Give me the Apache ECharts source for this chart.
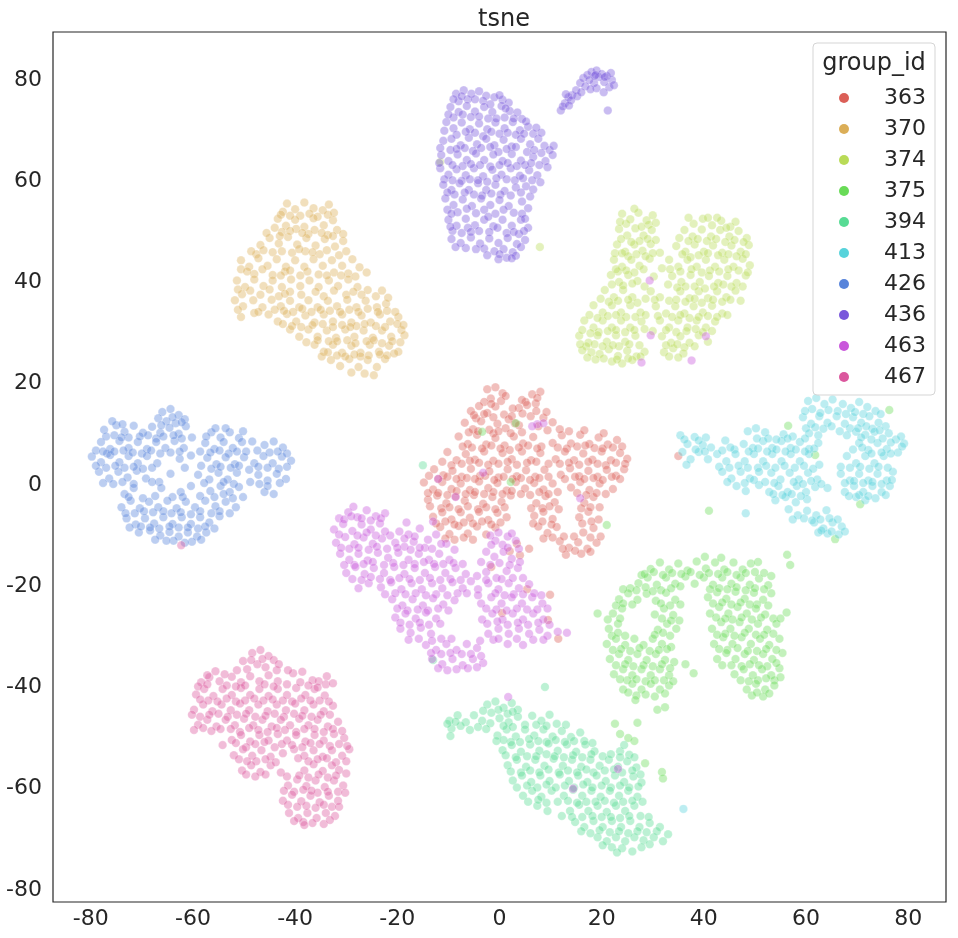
<!DOCTYPE html>
<html><head><meta charset="utf-8">
<script src="https://cdn.jsdelivr.net/npm/echarts@6/dist/echarts.min.js"></script>
<style>html,body{margin:0;padding:0;background:#fff}#c{width:958px;height:938px}</style>
</head><body><div id="c"></div>
<script>
const groupIds = ['363','370','374','375','394','413','426','436','463','467'];
const groupColors = ['#db5f57','#dbae57','#b9db57','#69db57','#57db94','#57d3db','#5784db','#7957db','#c957db','#db579e'];
const tickValues = [-80,-60,-40,-20,0,20,40,60,80];

const g363 = [[-2.4,18.9],[-0.8,19.3],[0.6,18.1],[-1.7,17.1],[0.3,16.6],[-3,16.4],[6.4,17.9],[8,18.4],[5.1,16.4],[7.1,16.1],[3.8,15.2],
[-5.6,14.6],[-4,15.6],[-2.4,14.2],[-0.8,15.5],[0.9,13.9],[2.6,15.1],[4.5,14.1],[6.1,13.6],[8.6,13.3],[7.6,11.6],[-4.6,13.2],[1.8,13],
[-6.8,12.3],[-5.2,11],[-3.6,12.6],[-2,10.9],[-0.4,12.1],[1.2,11.2],[3,12.2],[10.4,12.4],[4.4,10.4],[-1.2,10.2],
[-8,9.6],[-6.2,8.1],[-4.4,9.9],[-2.6,8],[-0.8,9.3],[1,7.8],[2.8,9.6],[4.6,8.2],[6.6,9.5],[10.4,8.3],[12.2,9.8],[14,8.2],[15.8,9.9],[17.6,8.1],[19.4,9.4],[21.2,8],[23,8.9],[-5.4,7.4],[0.2,7.2],[8.2,7.6],[13.2,7.2],[18.6,7.3],
[-10.2,6.5],[-8.4,4.9],[-6.6,6.1],[-4.8,5],[-3,6.6],[-1.2,4.8],[0.6,6.3],[2.4,5.1],[4.4,6.6],[6.2,4.9],[8,6.3],[11,5.1],[12.8,6.6],[14.6,4.9],[16.4,6.2],[18.2,5],[20,6.6],[21.8,4.9],[23.6,6.3],[25,5.2],[-9.4,3.9],[-2.2,4],[9.6,4.2],[20.8,3.9],
[-12.8,3.1],[-11,1.9],[-9.2,2.8],[-7.4,1.6],[-5.6,3.2],[-3.8,1.8],[-2,2.7],[-0.2,1.5],[1.6,3.1],[3.4,1.7],[5.2,2.9],[7,1.6],[8.8,3],[12,2],[13.8,3.3],[15.6,1.7],[17.4,2.8],[19.2,1.6],[21,3],[22.8,1.8],[24.4,3.1],
[-14.8,0.5],[-13,-0.9],[-11.2,0.6],[-9.4,-0.8],[-7.6,0.3],[-5.8,-1],[-4,0.7],[-2.2,-0.6],[-0.4,0.4],[1.4,-1.1],[3.2,0.6],[5,-0.7],[6.8,0.4],[8.6,-0.9],[10.4,0.3],[14,-0.5],[15.8,0.6],[17.6,-1],[19.6,0.3],[22.2,-0.8],
[-14,-2.9],[-12.2,-2.1],[-10.4,-3.6],[-8.6,-2.3],[-6.8,-3.1],[-5,-2],[-3.2,-3.7],[-1.4,-2.4],[0.4,-3.3],[2.2,-2.1],[7.2,-3.6],[9,-2.2],[10.8,-3.4],[16.6,-3.5],[18.4,-2.4],[-11.4,-4.6],[-4.2,-4.8],[8.4,-4.6],
[-13,-6.3],[-11.2,-5.4],[-9.4,-6.8],[-7.6,-5.4],[-5.8,-6.5],[-4,-5.3],[-2.2,-6.9],[-0.4,-5.5],[1.4,-6.4],[6.8,-6.1],[8.6,-5.3],[10.4,-6.7],[15.6,-6.4],[17.4,-5.3],[19.4,-6.8],
[-11.6,-8.3],[-9.8,-9.7],[-8,-8.1],[-6.2,-9.6],[-4.4,-8.2],[-2.6,-9.8],[-0.8,-8.4],[7.6,-8.2],[9.4,-9.5],[11.2,-8.3],[16.4,-9.4],[18.4,-8.5],
[11.8,-11.1],[13.6,-12.4],[15.4,-11.3],[17.2,-12.6],[19,-11.4],[13,-13.8],[16,-13.6],[2,-13.1],[4,-13.9],[5.8,-12.6],[3.4,-11.6],[14.6,-10.2],
[-1.6,16],[1.2,17.6],[7.4,17.2],[4.4,16.8],[-5,13.8],[-3,14],[-1.2,13.4],[2.4,13.6],[5.4,15.8],[7.2,14.6],[9.2,14.4],
[-6,10.4],[-4.2,10.6],[-0.2,10.6],[2.2,10.2],[3.8,11.8],[11.8,11],[9.4,10.8],[13.6,10.6],[16.6,10.8],[20.4,10.2],
[-7.2,7.6],[-3.4,7.2],[-1.6,7.8],[2,6.9],[3.8,7.4],[5.6,7.8],[7.4,7.2],[11.4,7.4],[15.2,7.6],[16.8,7.8],[20.2,7.2],[22.2,7.4],[24,7.6],
[-11.2,4.6],[-7.4,4.2],[-5.8,4.8],[-4,4.4],[-0.2,4.2],[1.6,4.6],[3.4,4],[5.4,4.4],[7.2,4.6],[11.8,4.2],[13.6,4.4],[15.6,4],[17.4,4.6],[19.2,4.2],[22.8,4.4],[24.6,4.2],
[-13.8,1.8],[-12,1.2],[-10.2,1.6],[-8.4,1.2],[-6.4,1.4],[-4.8,1.2],[-2.8,1.8],[-1,1],[0.8,1.6],[2.6,1.2],[4.2,1.4],[6,1],[7.8,1.4],[9.6,1.6],[12.8,1.2],[14.8,1.6],[16.6,1.2],[18.4,1.4],[20.2,1],[22,1.6],[23.6,1.2],
[-14,-1.6],[-12,-1.6],[-10.2,-2],[-8.4,-1.2],[-6.6,-1.8],[-4.8,-1.4],[-3,-1.8],[-1.2,-1.4],[0.6,-1.8],[2.4,-1.2],[4.2,-1.8],[6,-2],[7.8,-1.4],[9.6,-1.8],[11.4,-1.4],[15.2,-1.6],[17,-2],[19,-1.6],[20.8,-1.8],
[-13.6,-4.2],[-9.8,-4.4],[-8,-4.8],[-6.2,-4.2],[-2.6,-4.4],[-0.8,-4.8],[1,-4.4],[6.2,-4.6],[9.8,-4.2],[11.6,-4.8],[16,-4.6],[17.8,-4.4],[19.6,-4.4],
[-12.4,-7.6],[-10.6,-7.2],[-8.8,-7.8],[-7,-7.4],[-5.2,-7.6],[-3.4,-7.2],[-1.6,-7.8],[0.2,-7.4],[6.6,-7.6],[8.4,-7.2],[10.2,-7.8],[16.2,-7.6],[18,-7.2],
[-10.6,-10.6],[-8.8,-10.8],[-7,-10.4],[-5.2,-10.8],[8.6,-10.6],[10.4,-10.4],[12.6,-10.2],[17.8,-10.4],[19.8,-10.2],[12.4,-12.6],[14.8,-13],[17.8,-13.2],
[35,5.7],[9.9,-21.7],[9.5,-26.7],[11.5,-30.4],[0.5,-25.3],[-1.6,-16.2],[5.4,-20.6]];

const g370 = [[-41.6,55.6],[-40,54.5],[-38.2,55.8],[-36.4,54.7],[-34.6,54.3],[-33.4,55.4],[-39,53.2],[-35.6,53],[-42.4,54],
[-43.4,52.6],[-41.8,51.2],[-40,52.4],[-38.2,51],[-36.4,52.7],[-34.4,51.3],[-32.6,52.3],[-31.8,50.4],[-42.6,50],[-37.4,49.6],[-33.6,49.4],[-39.8,50.6],[-44,50.8],
[-45,48.8],[-46.8,47.4],[-43.2,47.7],[-41.4,49],[-39.6,47.5],[-37.8,48.8],[-36,47.3],[-34.2,48.6],[-32.2,47.1],[-30.6,48.2],[-44.4,46],[-40.6,45.9],[-35.2,45.6],[-31.4,45.4],[-38,46.2],[-47.6,45.6],
[-50.6,44.4],[-49,43.1],[-47.2,44.8],[-45.4,43.3],[-43.6,44.6],[-41.8,43.1],[-40,44.4],[-38.2,43.1],[-36.4,44.6],[-34.6,43.3],[-32.8,44.4],[-30.8,43.3],[-27.4,43],[-29.6,41.8],[-48,41.7],[-44.4,41.5],[-39,41.4],[-35.4,41.6],[-32.4,42],[-42,42.2],
[-51.4,40.4],[-49.8,39.1],[-48,40.6],[-46.2,39.3],[-44.4,40.4],[-42.6,39.1],[-40.8,40.6],[-39,39.3],[-37.2,40.4],[-35.4,39.1],[-33.4,40.4],[-31.6,39.3],[-29.6,40.6],[-27.8,39.1],[-25.8,38.5],[-50.4,37.7],[-46.8,37.6],[-43.2,37.3],[-38.8,37.6],[-34.4,37.3],[-30,37.6],[-24.2,37.3],[-41,38.2],[-27,37.6],
[-51.8,36.5],[-50.2,35.3],[-48.2,36.5],[-46.4,35.1],[-44.6,36.6],[-42.8,35.3],[-41,36.4],[-39.2,35.1],[-37.4,36.5],[-35.6,35.1],[-33.6,36.4],[-31.8,35.3],[-29.8,36.6],[-28,35.1],[-26.2,36.4],[-24,35.1],[-22.2,35.8],[-50.6,33.2],[-48,34],
[-45.2,33.7],[-43.4,32.3],[-41.6,33.8],[-39.8,32.3],[-38,33.5],[-36.2,32.1],[-34.4,33.7],[-32.6,32.3],[-30.8,33.7],[-29,32.1],[-27,33.5],[-25.2,32.1],[-23.4,33.7],[-21.4,32.3],[-19.8,33.2],
[-41,30.7],[-39.2,29.3],[-37.4,30.7],[-35.6,29.3],[-33.8,30.5],[-32,29.1],[-30.2,30.7],[-28.4,29.3],[-26.6,30.5],[-24.8,29.1],[-23,30.5],[-21.2,29.3],[-19.2,30.6],[-20,31.8],[-36.6,31.6],[-28,31.4],[-32.6,31.2],[-24.2,31.4],
[-36.2,27.7],[-34.4,26.3],[-32.6,27.7],[-30.8,26.1],[-29,27.5],[-27.2,26.1],[-25.4,27.7],[-23.6,26.3],[-21.6,27.5],[-19.8,26.3],[-33.4,28.4],[-26,28.4],[-21,28.4],[-29.8,28.6],
[-33,24.7],[-31.2,23.5],[-29.4,24.9],[-27.6,23.3],[-25.8,24.7],[-24,23.3],[-22.4,24.9],[-29,22.2],[-26.4,22],[-24.6,21.7],[-31.8,25.6],[-27.2,25.4],[-23.4,25.8],
[-42.8,53.4],[-41,53.2],[-37.2,53.6],[-33.6,53.4],[-32.4,53.8],
[-43,49.2],[-41,50.2],[-38.6,49.8],[-36.2,50.4],[-34.8,49.8],[-32.6,49.2],[-30.6,49.6],[-45.6,49.8],
[-48.6,46.2],[-46.2,46.4],[-42.6,46.2],[-39.2,46.6],[-36.6,46],[-33.8,46.4],[-30,46.2],[-28.8,44.6],
[-50.6,42.6],[-49.4,42.2],[-46.4,42.6],[-42.8,41.4],[-41,42.4],[-37.6,42.2],[-33.8,41.4],[-31,41.4],[-28.2,41.2],[-26,42],
[-51.2,38.6],[-48.8,38.4],[-45,38.6],[-42,37.8],[-36,38.2],[-32.4,38.4],[-28.6,38.2],[-23,38.4],[-21.8,37],
[-51.2,34.6],[-47.2,34.2],[-44,34.6],[-42.2,34.4],[-40.4,34.2],[-38.6,34.8],[-36.8,34.2],[-35,34.6],[-33.2,34.4],[-31.2,34.2],[-29.4,34.6],[-27.6,34.2],[-25.8,34.8],[-23.8,34.2],[-22,34.4],[-20.4,34.2],
[-42.4,31.8],[-40.6,31.4],[-38.8,31.2],[-34.6,31.8],[-30.8,31.6],[-29.2,31.2],[-26.4,31.8],[-22.4,31.2],[-18.8,31.6],
[-37.8,28.2],[-35.6,28.6],[-31.8,28.4],[-28.2,28],[-24.6,28.6],[-23,28],[-19.4,28.2],[-18.6,29.6],
[-34.8,25.4],[-33.6,26.2],[-30.2,25.4],[-28.4,25.8],[-25.6,25.6],[-22,25.6],[-20.6,26]];

const g374 = [[24,53.6],[25.6,52.5],[27.2,53.8],[28.8,52.3],[30,53.3],[26.4,54.6],[38,51.6],[39.8,52.6],[41.6,51.3],[43.4,52.2],[45.2,51],[24.8,51.6],[29.2,51.4],
[23.4,50.6],[25,49.3],[26.6,50.7],[28.2,49.3],[29.8,50.4],[36.2,50.4],[37.8,49.1],[39.6,50.5],[41.4,49.1],[43.2,50.4],[45,49.1],[46.8,50.2],[48.4,48.8],[27.4,48.2],[40.6,48.2],[44.2,48],
[23,47.5],[24.6,46.1],[26.4,47.5],[28,46.3],[29.6,47.6],[31.4,45.9],[34.6,47.2],[36.4,46.1],[38.2,47.5],[40,46.1],[41.8,47.3],[43.6,45.9],[45.4,47.3],[47.2,46.1],[48.8,47.4],[25.2,45.2],[37.4,45],[46.4,45.2],
[22.4,44.5],[24,43.1],[25.8,44.5],[27.4,43.3],[29.4,44.7],[33.2,44.5],[35,43.1],[36.8,44.5],[38.6,43.1],[40.4,44.5],[42.2,43.1],[44,44.5],[45.8,43.1],[47.6,44.7],[49,43.4],[23.2,42.2],[39.6,42],[31.8,42.8],
[21.8,41.5],[23.4,40.1],[25.2,41.5],[27,40.3],[33.8,41.3],[35.6,40.1],[37.4,41.5],[39.2,40.1],[41,41.3],[42.8,39.9],[44.6,41.3],[46.4,39.9],[48.2,41.4],[30.2,41.2],[28.4,39.2],[36.4,39.2],[45.4,39.2],
[20.6,38.5],[22.4,37.1],[24.2,38.5],[26,37.1],[29.6,38.3],[31.4,37.1],[35.4,38.3],[37.2,36.9],[39,38.3],[40.8,36.9],[42.6,38.3],[44.4,37.1],[46.2,38.4],[47.2,36.4],[21.4,36.2],[33.2,36.4],[39.6,36],
[18.4,35.5],[20.2,34.1],[22,35.5],[23.8,34.1],[25.6,35.5],[27.6,34.1],[30.6,35.3],[32.6,33.9],[34.4,35.3],[36.2,33.9],[38,35.3],[39.8,34.1],[41.6,35.4],[43.6,33.9],[24.8,33.2],[37.2,33],
[16.6,32.5],[18.4,31.1],[20.2,32.5],[22,31.1],[23.8,32.5],[25.6,31.1],[27.8,32.3],[31.4,32.5],[33.2,31.1],[35,32.5],[36.8,31.1],[38.6,32.5],[40.4,31.1],[42.2,32.3],[19.4,30.2],[30,30.4],[34.6,30.2],
[15.6,29.5],[17.4,28.1],[19.2,29.6],[21,28.3],[22.8,29.6],[24.6,28.3],[26.6,29.5],[31.8,29.4],[33.6,28.1],[35.4,29.4],[37.2,28.1],[39,29.6],[40.8,28.3],[17,27.4],[23.4,27.4],[36.2,27.2],
[16.2,26.6],[18,26.2],[19.6,25.9],[21.4,26.8],[23.2,25.5],[25,26.5],[26.8,25.4],[28.4,26.3],[32.2,26.2],[34,27],[36,26],[22,24.4],[24,24],[26,24.7],[20.4,25],
[23.6,52],[27.8,51],[30.6,51.8],[37,52.8],[40.8,52.8],[42.6,52.8],[46.2,52],[44.4,50.8],
[23.8,48.6],[25.8,48],[29,48.6],[30.6,48.4],[35.2,48.8],[37,48.2],[38.8,48.6],[42.4,48.6],[46,48.4],[47.8,48],
[22.6,45.8],[24,45.8],[26.8,45.6],[28.6,45.2],[30,45.8],[35.8,45.6],[39,45.4],[40.8,45.8],[42.8,45.4],[44.8,45.6],[48.2,45.6],
[22.8,42.6],[24.8,42.4],[26.4,42],[28.2,42.6],[33.4,42.6],[35.4,42.2],[37.6,42.6],[41.2,42.4],[43,42.2],[44.8,42.6],[46.8,42.4],[48.6,42],
[22,39.6],[24.2,39.4],[26,39.8],[33,39.6],[34.8,39],[38.2,39.2],[40.2,38.8],[42,39.2],[43.8,39.6],[47.6,39.2],
[19.8,36.8],[23.2,36.4],[25.2,36.6],[27,36],[28.6,36.8],[30.4,36.6],[34.6,36.6],[36.4,36.2],[38.2,36.8],[41.8,36.6],[43.6,36.2],[45.2,36.6],
[17.6,33.6],[19.2,33],[21.2,33.4],[22.8,33.6],[26.6,33.2],[28.6,33.6],[31,33.4],[33.8,33.2],[35.4,33.6],[39,33.2],[40.8,33.4],[42.6,33.2],[44.6,33.6],
[16.2,30.6],[17.8,30],[21.2,30.4],[22.8,30.6],[24.6,30.2],[26.4,30.6],[28.4,30.8],[32.6,30.6],[36.6,30.4],[38.4,30.8],[39.8,30.2],[41.6,30.4],
[15.8,27.8],[18.6,27.8],[20.2,27.4],[22.2,27.6],[25.4,27.8],[27.4,27.6],[32.6,27.6],[34.8,27.8],[38.2,27.4],
[17.2,25.2],[18.8,24.8],[23,24.8],[25.2,25],[27.6,25.4],[33.2,25.4],[35,25.2],
[7.9,47],[-11.6,63.8]];

const g375 = [[29.6,-16.6],[31.4,-15.3],[33.2,-16.7],[35,-15.5],[36.8,-16.9],[38.6,-15.1],[40.4,-16.5],[42.2,-15.3],[44,-16.7],[45.8,-15.3],[47.6,-16.7],[49.2,-15.5],[40.2,-14.2],[43.4,-14.4],[50.6,-15.2],[27.8,-17.8],
[27.2,-19.4],[29,-18.3],[30.8,-19.7],[32.6,-18.3],[34.4,-19.5],[36.4,-18.1],[38.2,-19.5],[40,-18.3],[41.8,-19.7],[43.6,-18.3],[45.4,-19.5],[47.2,-18.3],[49,-19.7],[50.8,-18.5],[52.6,-19.8],[25.6,-20.4],[31.6,-20.8],[44.6,-20.6],[48.2,-20.8],
[23.4,-22.6],[25.2,-21.4],[27,-22.7],[28.8,-21.5],[30.6,-22.9],[32.6,-21.3],[34.4,-22.7],[40.8,-22.2],[42.6,-21.2],[44.4,-22.5],[46.2,-21.1],[48,-22.5],[49.8,-21.3],[51.6,-22.7],[53.2,-21.4],[33.4,-23.8],[22.8,-23.8],[50.4,-23.6],
[22.2,-25.4],[24,-24.4],[30.4,-25.6],[32.2,-24.4],[34,-25.7],[41.2,-25.4],[43,-24.1],[44.8,-25.4],[46.6,-24.1],[48.4,-25.4],[50.2,-24.4],[52,-25.6],[19.2,-25.4],[56.2,-25.2],[35.2,-26.8],[45.6,-26.6],[53.6,-26.4],
[21.4,-28.4],[23.2,-27.4],[31,-28.6],[32.8,-27.4],[34.6,-28.4],[41.6,-28.4],[43.4,-27.1],[45.2,-28.4],[47,-27.1],[48.8,-28.4],[50.6,-27.4],[52.4,-28.6],[54.2,-27.4],[22,-29.8],[33.4,-29.8],[46,-29.8],[50.2,-29.6],
[21,-31.4],[22.8,-30.4],[24.6,-31.6],[26.4,-30.4],[28.2,-31.6],[30,-30.4],[31.8,-31.4],[33.6,-32],[42,-31.4],[43.8,-30.1],[45.6,-31.4],[47.4,-30.1],[49.2,-31.4],[51,-30.4],[52.8,-31.6],[54.8,-30.4],[25.6,-32.8],[29.4,-32.8],[44.6,-32.6],[50.4,-32.8],
[21.6,-34.4],[23.4,-33.4],[25.2,-34.6],[27,-33.4],[28.8,-34.6],[30.6,-33.4],[32.4,-34.6],[34.2,-35],[36.4,-35.4],[42.6,-34.4],[44.4,-33.2],[46.2,-34.4],[48,-33.4],[49.8,-34.6],[51.6,-33.4],[53.4,-34.4],[55.4,-33.2],[26.2,-35.8],[30,-35.8],[47.4,-35.8],[52.4,-35.8],
[22.4,-37.4],[24.2,-36.4],[26,-37.6],[27.8,-36.4],[29.6,-37.6],[31.4,-36.4],[33.2,-37.6],[38,-37.2],[46,-37.4],[47.8,-36.4],[49.6,-37.6],[51.4,-36.4],[53.2,-37.6],[54.8,-36.2],[25,-38.6],[28.6,-38.8],[32.2,-38.6],[50.6,-38.6],[53.8,-38.6],
[24.2,-40.4],[26,-39.3],[27.8,-40.4],[29.6,-39.3],[31.4,-40.4],[33.2,-39.6],[48.4,-40.4],[50.2,-39.3],[52,-40.4],[53.8,-39.6],[49.4,-41.6],[51.6,-41.8],[26.8,-41.6],[30.4,-41.8],
[28.4,-17.6],[30.2,-17.2],[32,-17.8],[33.8,-17.4],[35.6,-17.6],[37.4,-17.2],[39.2,-17.8],[41,-17.4],[42.8,-17.6],[44.6,-17.2],[46.4,-17.8],[48.2,-17.4],[50,-17.2],[51.8,-17.4],[53.2,-18],
[24.2,-20.6],[26.8,-20.8],[28.6,-20.2],[30,-21],[33.6,-20.4],[35.4,-20],[41.2,-20.6],[43,-20.4],[46.4,-20.2],[50,-20.4],[51.8,-20.6],
[24.2,-23.4],[26,-23.6],[31.6,-23.4],[35.4,-23.6],[41.8,-23.4],[43.6,-23.2],[45.4,-23.6],[47.2,-23.2],[49,-23.6],[52.6,-23.8],
[21.2,-26.6],[23.6,-26.4],[31.8,-26.4],[33.6,-26.8],[42.4,-26.2],[44.2,-26.4],[47.4,-26.2],[49.4,-26.6],[51.2,-26.2],[55,-26.4],
[23.2,-29.2],[24.6,-29.8],[30.4,-29.6],[32,-29.2],[42.6,-29.6],[44.2,-29.4],[48,-29.2],[51.8,-29.6],[53.6,-29.4],
[22.2,-32.6],[23.8,-32.4],[27.4,-32.2],[31.2,-32.6],[32.8,-32.4],[43,-32.4],[46.6,-32.2],[48.6,-32.8],[52.2,-32.4],[54.2,-32.6],
[22.8,-35.6],[24.6,-35.4],[28.2,-35.6],[31.8,-35.4],[33.4,-36.2],[43.6,-35.6],[45.4,-35.6],[49,-35.4],[50.8,-35.6],[54.2,-35.2],
[23.6,-38.4],[26.8,-38.4],[30.4,-38.6],[34,-38.8],[47.2,-38.6],[48.8,-38.8],[52.2,-38.2],[55,-38],
[25.2,-41],[28.6,-41.4],[32.4,-41.2],[50.4,-41],[52.8,-41.2],
[30.9,-44.4],[32.4,-43.9],[56.3,-13.8],[56.9,-15.8],
[56.5,11.7],[61.8,5.9],[41,-5.1],[70.6,-3.8],[65.7,-10.7],[76.3,14.8],[22.6,-47.2],[23.6,-49.2],[25.2,-50],[27,-47],[26.4,-50.6],[31.8,-56.7],[32,-58],[26.6,-42.5],[28.5,-55],[-3.4,10.5],[3.2,12.2],[2.2,0.6],[21,-7.9]];

const g394 = [[-2.4,-43.4],[-0.8,-42.8],[0.8,-44],[2.4,-43.1],[-1.6,-45],[1.6,-45.2],[3.6,-44.4],
[-9.8,-46.6],[-8.2,-45.5],[-6.6,-46.9],[-5,-45.5],[-3.4,-46.6],[-1.8,-47.1],[0,-46.1],[1.8,-46.9],[3.6,-45.8],[6.4,-45.6],[8.2,-46.6],[9.8,-45.4],[-9.4,-48.1],[-7.6,-47.6],[-5.8,-48.4],[-10.2,-47.2],[5,-47.4],[11.2,-47.2],
[-0.4,-49.5],[1.4,-48.3],[3.2,-49.7],[5,-48.3],[6.8,-49.5],[8.6,-48.3],[10.4,-49.7],[12.2,-48.6],[14,-49.8],[15.8,-48.9],[-9.6,-49.6],[2.2,-50.8],[9.2,-50.8],[16.6,-50.6],
[0.6,-52.4],[2.4,-51.4],[4.2,-52.7],[6,-51.3],[7.8,-52.5],[9.6,-51.1],[11.4,-52.5],[13.2,-51.3],[15,-52.7],[16.8,-51.3],[18.6,-52.6],[23.6,-52.6],[25.4,-53.3],[5.4,-53.6],[12.6,-53.8],[20.2,-53.6],
[1.6,-55.4],[3.4,-54.3],[5.2,-55.7],[7,-54.3],[8.8,-55.5],[10.6,-54.1],[12.4,-55.5],[14.2,-54.3],[16,-55.7],[17.8,-54.3],[19.6,-55.5],[21.4,-54.3],[23.2,-55.7],[25,-54.6],[26.8,-55.8],[4.2,-56.8],[11.6,-56.8],[18.4,-56.8],[24,-56.8],
[2.6,-58.4],[4.4,-57.4],[6.2,-58.7],[8,-57.4],[9.8,-58.5],[11.8,-57.2],[13.6,-58.5],[15.4,-57.4],[17.2,-58.7],[19,-57.4],[20.8,-58.5],[22.6,-57.4],[24.4,-58.7],[26.2,-57.6],[27.8,-58.8],[7.4,-59.8],[14.6,-59.8],[21.8,-59.8],
[4.6,-61.4],[6.4,-60.4],[8.2,-61.6],[10.2,-60.4],[12.6,-61.4],[14.4,-60.2],[16.2,-61.4],[18,-60.4],[19.8,-61.6],[21.6,-60.4],[23.4,-61.4],[25.2,-60.4],[27,-61.6],[17,-62.6],[24.2,-62.6],
[7.4,-63.4],[9.4,-64.4],[13.8,-64.4],[15.6,-63.2],[17.4,-64.4],[19.2,-63.4],[21,-64.6],[22.8,-63.4],[24.6,-64.4],[26.4,-63.4],[16.2,-65.6],[20,-65.6],[23.6,-65.8],[27.6,-65.4],
[14.8,-66.6],[16.6,-67.6],[18.4,-66.4],[20.2,-67.6],[22,-66.4],[23.8,-67.6],[25.6,-66.4],[27.4,-67.6],[29.4,-66.8],[31.4,-67.6],[21.6,-68.6],[25.2,-68.8],
[19.2,-69.6],[21,-70.4],[22.8,-69.6],[24.6,-70.4],[26.4,-69.6],[28.2,-70.2],[30.2,-69.6],[32,-70.4],[24,-71.8],[26,-72.4],
[-0.2,-44.4],[2.6,-44.8],[-3.2,-44.6],
[-8.6,-46.8],[-4.2,-47.8],[-2.6,-48.2],[0.8,-47.6],[2.6,-47.8],[7.2,-47.4],[9.2,-47.6],[13,-47.4],
[-0.6,-50.6],[0.8,-50.4],[4,-50.8],[5.8,-50.2],[7.6,-50.6],[11,-50.4],[12.8,-50.8],[14.6,-50.6],[18.2,-51],[24.4,-51.4],
[1.2,-53.4],[3.2,-53.8],[7.2,-53.6],[9.2,-53.2],[10.8,-53.6],[14.4,-53.4],[16.2,-53.8],[18,-53.2],[21.8,-53.2],[23.6,-53.8],[26.4,-53.8],
[2.2,-56.6],[6,-56.4],[7.8,-56.8],[9.6,-56.2],[13.4,-56.4],[15.2,-56.8],[17,-56.2],[20.6,-56.4],[22.4,-56.2],[26,-56.4],[27.6,-57.2],
[3.4,-59.8],[5.4,-59.4],[9.2,-59.2],[11,-59.8],[12.8,-59.4],[16.4,-59.2],[18.2,-59.8],[20,-59.4],[23.6,-59.4],[25.4,-59.8],[27.2,-59.6],
[5.6,-62.6],[7.6,-62.2],[9.2,-62.8],[11.4,-62.6],[13.4,-62.4],[15.2,-62.8],[18.8,-62.6],[20.6,-62.4],[22.4,-62.8],[26,-62.4],[28,-62.6],
[12.2,-65.4],[14.2,-65.6],[18.2,-65.4],[21.8,-65.6],[25.4,-65.4],[29.2,-65.6],
[16,-68.4],[17.8,-68.8],[19.6,-68.2],[23.4,-68.4],[27,-68.4],[28.8,-68.6],[30.8,-68.4],[33,-69],
[20.2,-71.2],[22,-71.6],[27.8,-71.6],[29.4,-71],[23,-72.6],
[8.9,-39.9],[-15,3.9],[-13,-34.6]];

const g413 = [[60.4,16.6],[62,17.2],[63.6,16],[65.2,16.9],[67.2,16],[68.8,15.2],[70.4,16.4],[72,15.4],[73.6,14.6],[61.2,15],[64.4,14.8],[66.2,14.6],[71.2,14],
[59.4,13.4],[61,12.1],[62.6,13.6],[64.2,12.3],[66,13.6],[67.6,12.1],[69.2,13.4],[70.8,12.3],[72.4,13.6],[74.2,12.3],[75.6,11.6],[60,11.2],[63.4,11.1],[68.6,11.2],[73,11.1],
[60.6,10.2],[62.4,9.8],[68,9.8],[69.8,10.5],[71.6,9.9],[73.4,10.5],[57.4,9.6],[55.6,10],[50.2,11.2],[48.6,10.6],[52,10.4],[66.6,10.6],
[35.4,9.8],[36.8,8.1],[38.2,9.5],[39.8,7.9],[41.4,7.4],[47.8,8.1],[49.6,7.3],[51.6,8.7],[53.4,7.3],[55.2,8.7],[57,7.3],[58.8,8.5],[60.6,7.1],[62.4,8.3],[70.4,8.3],[72.2,6.9],[74,8.3],[75.8,7.1],[77.6,9],[79.2,8.2],[78,6.4],[44.2,8.8],[46,7],
[35.8,6.5],[37.4,5.1],[39,6.5],[40.8,5.1],[42.6,6.1],[44.4,4.7],[46.2,6.1],[48,4.7],[49.8,6.1],[51.6,4.7],[53.4,6.1],[55.2,4.7],[57,6.1],[58.8,4.7],[60.6,6.1],[68,5.7],[69.8,4.3],[71.6,5.7],[73.4,4.3],[75.2,5.7],[36.6,4],[43,3.6],[50.6,3.4],[57.8,3.4],[72.4,3.2],[62.6,4],[66.8,3.6],
[43.6,2.6],[45.4,1.3],[47.2,2.6],[49,1.3],[50.8,2.6],[53.2,2.4],[55,1.1],[56.8,2.4],[58.6,1.1],[60.4,2.4],[62.2,1.1],[66.8,2.2],[68.6,0.9],[70.4,2.2],[72.2,0.9],[74,2.2],[75.8,0.9],[77,2.6],
[46.4,-0.2],[48.2,-1.2],[52.8,-1.4],[54.6,-0.2],[56.4,-1.4],[58.2,-0.2],[60,-1.4],[61.8,-0.4],[67.6,-1.4],[69.4,-0.2],[71.2,-1.4],[73,-0.2],[74.8,-1.4],[76.4,-0.2],[50.8,0],[64.2,-0.6],
[54,-3],[56,-2.4],[58,-3.4],[71.6,-3],[73.6,-2.6],[60.2,-2.8],[69.8,-2.4],
[48.2,-5.6],[56.6,-4.8],[58.4,-6],[60.2,-5.1],[62,-6],[64,-5],
[61.6,-7.4],[63.4,-8.6],[65.2,-7.4],[67,-8.2],[64.2,-9.6],[66.4,-9.8],[62.4,-9.4],
[59.8,14.6],[62.8,14.2],[67.8,14],[69.6,14.4],[74.6,14],
[61.8,11.4],[65,11.6],[70.2,11.2],[71.8,11.6],[74.4,10.8],[76.2,10.2],
[36.2,9],[39,8.8],[40.4,9.4],[50.4,9.2],[52.6,9.2],[54.2,9],[56.4,9.2],[59.8,9.2],[70.8,9.4],[72.8,9],[75,9.2],[76.6,8.4],[78.6,9.6],
[38.4,7],[40.2,6.6],[43.6,6.8],[45.2,7.4],[48.8,6.6],[50.6,7.2],[52.4,6.6],[54.2,7],[56,6.6],[58,7],[59.8,6.6],[61.6,7.2],[69.2,7],[71,7.4],[72.8,6.2],[74.8,6.4],[76.6,6.2],[78.8,7.6],
[45,3.4],[46.8,3.8],[48.6,3.4],[52.2,3.8],[54,3.4],[55.8,3.8],[59.6,3.8],[61.4,3.2],[68.6,3.4],[70.6,3.6],[74.2,3.6],[76,3.4],
[44.6,0.6],[48,0.4],[49.8,1],[52,0.6],[53.8,0.4],[57.6,0.6],[59.4,0.2],[61,0.8],[63,0.2],[67.6,0.4],[69.4,0.8],[71.2,0.4],[73,0.6],[74.8,0.2],[76.8,1],
[53.6,-1.8],[55.4,-2],[57.2,-1.8],[59,-2.2],[68.4,-2.2],[70.4,-2],[72.2,-2.2],[75.6,-2],
[57.4,-6.8],[59.6,-6.6],[61.2,-7],[62.8,-6.8],[64.6,-6.6],[66.2,-6.8],
[63,-9],[65,-9.2],[67.6,-9.2],
[36,-64]];

const g426 = [[-66,14.4],[-64.4,15],[-62.8,13.8],[-61.6,13],[-65.2,12.6],[-63.4,12.2],[-66.8,13.2],
[-77.4,10.9],[-75,11.8],[-73.4,10.5],[-71.6,11.7],[-69.8,10.3],[-68,11.5],[-66.4,10.3],[-64.6,11.3],[-62.8,10.1],[-61.4,11.6],[-56.4,10.4],[-54.6,9.4],[-52.8,10.4],[-51,9.3],[-72.6,9.4],[-67.2,9.2],[-60.2,9.4],
[-78,8.5],[-76.2,7.1],[-74.4,8.7],[-72.6,7.3],[-70.8,8.5],[-69,7.1],[-67.2,8.5],[-65.4,7.3],[-63.6,8.7],[-61.8,7.3],[-57.6,8.3],[-55.8,7.1],[-54,8.5],[-52.2,7.3],[-50.4,8.5],[-46,7.9],[-44.2,8.6],[-42.4,7.4],[-76.8,6.2],[-70,6.2],[-64.4,6.4],[-53,6.2],[-45,6.4],
[-79.8,5.6],[-78,4.5],[-76.2,5.9],[-74.4,4.5],[-72.6,5.7],[-70.8,4.3],[-69,5.7],[-67,4.3],[-62.6,5.2],[-60.4,5.8],[-57.2,5.4],[-55.4,4.1],[-53.6,5.5],[-51.8,4.1],[-50,5.5],[-48,4.3],[-46.2,5.7],[-44.4,4.3],[-42.6,5.6],[-40.8,4.8],[-77,3.4],[-73.4,3.4],[-56.4,3.2],[-49,3],[-43.2,3.2],
[-78.4,2.6],[-76.4,1.3],[-74.6,2.6],[-72.8,1.5],[-71,2.8],[-69.2,1.3],[-64.4,2.2],[-59,2],[-56.8,1.1],[-55,2.4],[-53.2,1.1],[-51.4,2.4],[-47.2,2],[-45.4,0.9],[-43.6,2.2],[-41.8,1.2],[-61.6,3.4],[-66.6,0.6],
[-73.4,-1.8],[-71.6,-0.6],[-66.2,-0.6],[-62.4,-1.4],[-60.4,-0.2],[-56.6,-1.2],[-54.6,-0.2],[-52.8,-1.4],[-51,-0.4],[-46,-1.4],[-44.2,-1.8],[-58.6,-2.2],[-64,-2.4],[-69.8,-2.6],
[-74,-4.4],[-72.2,-3.1],[-70.4,-4.6],[-68.6,-3.3],[-66.8,-4.4],[-65,-3.1],[-63.2,-4.6],[-61.4,-3.3],[-59.6,-4.4],[-57.6,-3.1],[-55.6,-4.2],[-53.6,-3.3],[-51.6,-4.4],[-71.4,-5.6],[-64.2,-5.6],[-60.4,-5.8],[-56.4,-5.6],
[-73,-6.6],[-71.2,-7.8],[-69.4,-6.6],[-67.6,-7.6],[-65.8,-6.4],[-64,-7.7],[-62.2,-6.4],[-60.4,-7.7],[-58.6,-6.4],[-56.8,-7.4],[-54.8,-6.2],[-66.6,-8.6],[-62.8,-8.4],[-59,-8.6],
[-70.6,-9.4],[-68.4,-9],[-66.4,-10],[-64.6,-9.3],[-62.8,-10.2],[-61,-9.4],[-59.2,-10.2],[-57.4,-9.4],[-63.8,-11],[-60.2,-11.2],
[-64,13.4],[-62.2,12.4],[-66.2,11.8],[-75.8,12.6],[-73.8,12],
[-77,9.6],[-75.4,9.8],[-74,9.4],[-70.4,9.6],[-68.8,9.8],[-65.8,9.6],[-63.8,9.8],[-62.2,9.2],[-55.6,11.2],[-53.6,11.2],[-57.4,9.6],[-50.2,10.6],[-48.4,8.6],
[-79,6.8],[-77.6,6.6],[-75.4,6.6],[-73.6,6.8],[-71.8,6.4],[-68.2,6.8],[-66.4,6.2],[-62.6,6.6],[-58.6,6.6],[-56.6,6.4],[-54.8,6.8],[-51.4,6.6],[-49.6,6.6],[-47.4,6.8],[-43.4,6.6],[-41.6,6.2],
[-79,3.8],[-75.2,3.8],[-71.6,3.6],[-69.8,3.2],[-68,3.4],[-58.4,3.8],[-54.6,3.6],[-52.6,3.4],[-51,3.8],[-47.2,3.6],[-45.4,3.4],[-41.6,3.6],
[-77.6,0.4],[-75.6,0.2],[-73.8,0.6],[-71.6,0.2],[-68,0.6],[-57.8,0.4],[-54,0.6],[-52,0.2],[-48.8,0.6],[-47,0.2],[-43,0.4],
[-72.6,-2.4],[-67.4,-2.2],[-62,-2.4],[-55.8,-2.4],[-54,-1.8],[-52.2,-2.6],[-50.2,-2.4],[-45.4,-0.2],
[-73.2,-5.6],[-69.6,-5.2],[-67.8,-5.4],[-65.8,-5.2],[-62.4,-5.4],[-58.6,-5.2],[-54.8,-5.2],[-52.8,-5.6],
[-72.4,-8.4],[-70.2,-8.2],[-68.4,-8.4],[-64.6,-8.2],[-61,-8.4],[-57.6,-8.2],[-55.8,-8.6],
[-67.4,-10.8],[-65.2,-11],[-61.6,-11.4],[-58.4,-10.8]];

const g436 = [[-8.5,77.3],[-7,78],[-5.5,77.3],[-4,77.8],[-2.6,76.9],[-1,76.6],[0.6,76.1],[-6.2,76.2],[-8,75.8],[-3.2,75.9],[1.8,75.5],
[-9.6,74.7],[-8,73.7],[-6.4,74.9],[-4.8,73.8],[-3,74.7],[-1.4,73.7],[0.4,74.9],[2,73.9],[3.5,73.6],[-5.6,72.7],[-2.2,72.4],[1,72.6],[4.4,72.3],[-9,72.6],
[-10.4,71.7],[-9,70.5],[-7.4,71.6],[-5.8,70.3],[-4,71.4],[-2.4,70.3],[-0.8,71.6],[1,70.5],[2.6,71.7],[4,70.1],[5.6,70.8],[-8.4,69.2],[-3.2,68.9],[0,69.4],[3.2,69.2],[6.6,69.4],
[-11,68],[-9.4,68.4],[-7.6,67.1],[-6,68.6],[-4.4,67.3],[-2.6,68.4],[-1,67.1],[0.8,68.2],[2.4,66.9],[4.2,68.4],[6,67.3],[7.6,68.4],[8.8,67],[9.8,66.2],[8.2,65.6],[5.4,65.8],[-9.6,66.2],[-5.2,66],[-0.2,65.8],
[-11.4,65.2],[-10,64],[-8.2,65.3],[-6.4,64.2],[-4.6,65.5],[-3,64.2],[-1.2,65.3],[0.6,64],[2.4,65.4],[4.2,64.1],[6.6,64.8],[9,64],[10.4,65.2],[7.8,63.2],[-7.2,63],[-1.8,62.9],[3.4,63],
[-11.6,62.6],[-10,61.3],[-8.4,62.4],[-6.6,61.2],[-5,62.6],[-3.2,61],[-1.4,62.3],[0.4,61.3],[2.2,62.6],[4,61.1],[5.8,62.2],[7.4,61.2],[-7.4,60.1],[-2.4,59.9],[3,60.2],[-10.8,60.4],
[-11,59.3],[-9.4,58.3],[-7.8,59.6],[-6,58.3],[-4.2,59.6],[-2.6,58.3],[-0.8,59.3],[1,58.1],[5.2,59],[6.6,58.4],[3.2,58.8],[-8.8,57.4],[-3.4,57.2],[0.2,57.4],
[-10.6,56.6],[-9,55.3],[-7.2,56.4],[-5.4,55.1],[-3.6,56.6],[-1.8,55.3],[0,56.3],[1.8,55.1],[4.4,56],[5.6,54.7],[-8.2,53.9],[-4.6,53.7],[-0.8,53.6],[2.8,53.8],[-6.4,54.6],
[-10,52.4],[-8.4,51.2],[-6.6,52.6],[-4.8,51.3],[-3,52.4],[-1.2,51.1],[0.6,52.4],[2.4,51.2],[4.2,52.4],[5.6,50.8],[-7.4,49.8],[-2,50],[1.4,49.8],[-9.2,50.2],[3.8,49.6],
[-9.4,48.6],[-7.6,47.8],[-5.6,48.9],[-3.8,47.7],[-2,48.7],[-0.2,47.8],[1.6,48.8],[3.4,47.6],[5,48.4],[-1,46.2],[0.8,46.6],[2.6,46],[-3,46.7],[1.4,44.9],[3.2,45.3],[-0.2,44.6],
[-7.4,76.8],[-4.8,76.2],[-1.8,75.2],[0,77],[1.2,74.4],[-9,76.2],
[-10,73.2],[-7.2,73.2],[-4,72.8],[-0.6,72.4],[2.8,72.4],[5.2,71.8],
[-10.8,70],[-6.6,69.8],[-4.8,69.6],[-1.6,69.8],[1.6,69.6],[4.8,69.4],[8.2,69.6],[7.2,70.6],
[-11.6,66.6],[-8.4,66.4],[-6.8,66.6],[-3.6,66.6],[-1.8,66.8],[1.4,66.4],[3.2,66.8],[6.8,66.2],[10.6,67],
[-11.8,63.6],[-9.2,63.2],[-5.6,63.4],[-3.8,63.2],[0,63.2],[1.6,63.6],[5,63.2],[6.2,63.6],[9.4,62.8],
[-9.2,60.2],[-5.8,60.4],[-4.2,60.2],[-0.6,60.6],[1.4,60.4],[4.6,60.6],[6.4,60.2],[8,59.8],
[-10.2,57.8],[-6.8,57.8],[-5,57.4],[-1.6,57.6],[2.2,57.2],[4.2,57.8],[6,57],
[-10.2,54.4],[-9.4,53.6],[-3,54.4],[0.8,54.4],[4.4,53.6],[-2.2,53],[5,52.6],
[-9.6,51],[-6.2,50.8],[-4,50.2],[-0.4,50.8],[2.8,50],[4.8,50.2],[-5.6,50],
[-8.6,47],[-6.6,46.8],[-4.6,46.6],[-2.4,45.4],[4.2,47],[0,45.6],[2.4,44.8],
[12,74],[12.8,75.4],[13.5,76.6],[14.2,77],[15,78],[15.8,79.4],[14,76],[12.4,74.8],[16.4,80.4],[17.2,81],[18,81.6],[19,81.9],[20,81.2],[21,80.8],[22,80],[21.5,78.6],[20.5,79.6],[19.5,80.6],[18.5,79.4],[17.6,80],[16.8,78.8],[19,78.4],[20.4,77.6],[17.8,78.2],[21.2,74],[13,77.2],[22.4,79],[18.6,80.8],
[13.6,75],[15.2,76.8],[16,77.6],[18.8,81],[21.8,81.4],[20.6,80.6]];

const g463 = [[-31.4,-6.6],[-29.6,-5.4],[-27.8,-6.4],[-26,-5],[-24.2,-6.2],[-28.6,-4.3],[-18.2,-7.4],[-13,-7.2],[-22.4,-5.6],
[-32.4,-8.8],[-30.6,-7.7],[-28.8,-9.1],[-27,-7.8],[-25.2,-8.8],[-23.4,-7.6],[-19.6,-9.2],[-17.8,-9.8],[-15.6,-8.6],[-12.4,-9.8],[-21.4,-10],
[-32,-11.4],[-30.2,-10.3],[-28.4,-11.7],[-26.6,-10.4],[-24.8,-11.6],[-23,-10.6],[-20.4,-11.4],[-18.6,-12.2],[-16.8,-11.2],[-14.6,-12.4],[-1.8,-10],[-0.2,-9.4],[1.6,-10.2],[3.2,-11],[-10.4,-11.6],[-29.4,-12.6],[-25.6,-12.8],[0.6,-11.8],
[-31.2,-13.6],[-29.4,-14.8],[-27.6,-13.6],[-25.8,-14.9],[-23.8,-13.4],[-21.8,-14.4],[-19.8,-13.4],[-17.8,-14.8],[-15.8,-13.6],[-13.8,-14.8],[-11.8,-13.6],[-9.8,-14.8],[-2.6,-13.2],[-1,-14.2],[0.8,-13.2],[2.4,-14.6],[-28.4,-15.8],[-22.6,-15.8],[-16.6,-15.6],[-11,-15.6],
[-30,-17.4],[-28.2,-16.2],[-26.4,-17.6],[-24.6,-16.4],[-22.6,-17.4],[-20.6,-16.2],[-18.6,-17.6],[-16.6,-16.4],[-14.6,-17.4],[-12.6,-16.2],[-10.6,-17.4],[-8.6,-16.4],[-6.6,-17.6],[-4.4,-18],[-2.6,-17.2],[1.4,-17],[3.6,-16.4],[-27,-18.8],[-21.4,-18.8],[-15.6,-18.8],[-9.6,-18.6],[-0.6,-18.4],
[-27.6,-20.4],[-25.6,-19.4],[-23.2,-20.2],[-21.2,-19.2],[-19.2,-20.6],[-17.2,-19.4],[-15.2,-20.6],[-13.2,-19.4],[-11.2,-20.4],[-9.2,-19.2],[-7.2,-20.4],[-4.2,-20.6],[-2.2,-19.4],[-0.2,-20.6],[1.8,-19.4],[3.8,-20.4],[5.8,-19.6],[-18.4,-21.6],[-12.4,-21.6],[-6.4,-21.4],[2.8,-21.6],
[-21,-22.6],[-19,-23.8],[-17,-22.6],[-15,-23.8],[-13,-22.4],[-11,-23.6],[-8.8,-22.8],[-3.6,-23.4],[-1.6,-22.2],[0.4,-23.4],[2.4,-22.2],[4.4,-23.4],[6.4,-22.2],[8.4,-23.4],[-18,-24.8],[-14,-24.8],[-0.6,-24.6],[5.4,-24.6],
[-20.4,-26.2],[-18.4,-25.4],[-16.4,-26.4],[-14.4,-25.2],[-12.4,-26.4],[-3.4,-26.6],[-1.4,-25.4],[0.6,-26.6],[2.6,-25.4],[4.6,-26.6],[6.6,-25.4],[8.6,-26.6],[-17.6,-27.6],[-13.8,-27.6],[1.6,-27.6],[5.6,-27.6],
[-19.4,-28.4],[-17.4,-29.2],[-15.4,-28.2],[-13.4,-29.4],[-2.2,-29.4],[-0.2,-28.4],[1.8,-29.4],[3.8,-28.4],[5.8,-29.4],[7.8,-28.6],[9.4,-29.8],[11.4,-29],[13.2,-29.2],[-11.4,-30.4],[-1.2,-30.6],[6.6,-30.6],
[-14.4,-31.6],[-12.4,-32.6],[-10.4,-31.4],[-8.4,-32.6],[-6.4,-31.4],[-4.4,-32.2],[1.6,-31.4],[4.6,-31.6],[-11.4,-33.4],[-7.4,-33.4],
[-13.2,-34.4],[-11.2,-35.4],[-9.2,-34.4],[-7.2,-35.6],[-5.2,-34.4],[-3.2,-35.2],[-8.4,-36.4],
[-30.4,-6.8],[-27,-6.6],[-25.2,-7],[-23.2,-6.6],[-29,-6.2],
[-31.4,-9.8],[-27.8,-10],[-26,-9.4],[-24.2,-10],[-22.4,-9.2],[-18.6,-10.6],[-16.6,-10.2],[-14,-10.8],[-11.4,-11.6],[-0.8,-11],[2.4,-9.6],
[-31,-12.4],[-27.6,-12.4],[-24,-12.2],[-22,-12.6],[-20,-12.4],[-17.4,-12.8],[-15.6,-12.4],[-13.2,-12.6],[-8.8,-12.8],[-1.6,-11.8],[1.6,-12.4],[3.8,-12.6],
[-30.4,-15.8],[-26.6,-15.6],[-24.8,-15.2],[-20.8,-15.4],[-18.8,-15.8],[-14.8,-15.2],[-12.8,-15.6],[-9,-15.4],[-7.2,-15.6],[-3.6,-15.2],[-1.8,-15.8],[0,-15.4],[2,-15.8],[4,-15.2],
[-28.8,-18.6],[-25.2,-18.2],[-23.4,-18.6],[-19.6,-18.4],[-17.6,-18.6],[-13.6,-18.4],[-11.6,-18.8],[-7.6,-18.8],[-5.6,-19],[-2.6,-18.8],[0.4,-18.6],[2.6,-18.4],[4.6,-18.4],
[-22.4,-21.6],[-20.4,-21.4],[-16.4,-21.4],[-14.4,-21.8],[-10.2,-21.8],[-8.2,-21.4],[-4.2,-21.8],[-0.8,-21.4],[1,-21.8],[4.6,-21.6],[6.8,-21.4],[8.2,-21.8],
[-20,-24.4],[-16,-24.6],[-12,-24.4],[-10,-24.8],[-2.6,-24.4],[1.4,-24.8],[3.4,-24.4],[7.4,-24.6],[9.4,-24.4],
[-19.4,-27.2],[-15.6,-27.2],[-11.6,-27.4],[-2.4,-27.4],[-0.4,-27],[3.6,-27.2],[7.6,-27.2],[9.8,-27.6],
[-17.8,-30.6],[-15.8,-30.4],[-13.2,-30.8],[-9.4,-30.4],[-3.8,-30.8],[-0.2,-30.4],[3.4,-30.4],[8.6,-30.6],
[-13.4,-33.2],[-9.6,-33.2],[-5.6,-33.4],[-3.6,-33.8],
[-12,-36.2],[-10.2,-36.6],[-6.2,-36.2],[-4.4,-36],
[29.4,40.4],[29.6,29.6],[40.4,29.4],[37.6,24.6],[27.8,24.2],[7.4,12],[8.6,12.2],[6.4,11.6],[-8.6,-2.4],[15.8,-2.6],[1.7,-41.9],[14.4,-60],[23.2,-56.1],[-3.2,2.4],[-12,1.2]];

const g467 = [[-48.4,-33.2],[-46.8,-32.6],[-45.2,-33.8],[-47.4,-35.4],[-45.8,-36],[-44.2,-34.6],[-49.4,-36.4],[-43.6,-36.6],[-50.2,-34.8],
[-58.4,-39],[-56.8,-38],[-54.8,-38.8],[-52.4,-37.9],[-50.6,-39],[-48.8,-37.8],[-47,-38.8],[-45.2,-37.6],[-43.4,-38.8],[-40.4,-37.2],[-38.6,-36.9],[-36.6,-38.6],[-35.4,-38.8],[-33.8,-37.8],[-55.6,-36.8],[-51.4,-36.6],[-41.6,-39.4],
[-59.4,-41.4],[-57.8,-40.3],[-56,-41.7],[-54.2,-40.3],[-52.4,-41.5],[-50.6,-40.1],[-48.8,-41.5],[-47,-40.3],[-45.2,-41.7],[-43.4,-40.3],[-41.6,-41.5],[-39.8,-40.1],[-38,-41.5],[-36.2,-40.3],[-34.2,-41.6],[-57,-42.6],[-51.6,-42.8],[-46.2,-42.6],[-40.6,-42.8],[-35.2,-42.6],
[-59.8,-44.4],[-58,-43.4],[-56.2,-44.7],[-54.4,-43.4],[-52.6,-44.5],[-50.8,-43.2],[-49,-44.5],[-47.2,-43.4],[-45.4,-44.7],[-43.6,-43.4],[-41.8,-44.5],[-40,-43.2],[-38.2,-44.5],[-36.4,-43.4],[-34.4,-44.7],[-32.6,-43.6],[-58.6,-45.8],[-53.2,-45.8],[-47.8,-45.8],[-42.2,-45.8],[-36.8,-45.8],
[-59,-47.4],[-57.2,-46.4],[-55.4,-47.7],[-53.6,-46.4],[-51.8,-47.5],[-50,-46.2],[-48.2,-47.5],[-46.4,-46.4],[-44.6,-47.7],[-42.8,-46.4],[-41,-47.5],[-39.2,-46.2],[-37.4,-47.5],[-35.6,-46.4],[-33.6,-47.7],[-31.6,-46.8],[-56.4,-48.6],[-50.8,-48.8],[-45.4,-48.8],[-39.8,-48.8],[-34.4,-48.8],
[-52.4,-50.4],[-50.6,-49.4],[-48.8,-50.7],[-47,-49.4],[-45.2,-50.5],[-43.4,-49.2],[-41.6,-50.5],[-39.8,-49.4],[-38,-50.7],[-36.2,-49.4],[-34.4,-50.5],[-32.4,-49.2],[-30.4,-50],[-49.6,-51.8],[-44,-51.8],[-38.6,-51.8],[-33.2,-51.6],
[-52,-53.4],[-50.2,-52.2],[-48.4,-53.5],[-46.6,-52.4],[-44.8,-53.7],[-42.4,-53],[-40.2,-52.2],[-38.2,-53.5],[-36.4,-52.4],[-34.6,-53.7],[-32.8,-52.4],[-30.8,-53.5],[-29.4,-52.2],[-47.6,-54.6],[-37.4,-54.6],[-32,-54.8],
[-50.4,-56.4],[-48.6,-55.4],[-46.8,-56.7],[-44.8,-55.4],[-42.8,-56.8],[-38.2,-56.4],[-36.4,-55.2],[-34.6,-56.5],[-32.8,-55.4],[-31.4,-56.3],[-30,-57],[-37.4,-57.8],[-33.6,-57.8],
[-41.4,-59.4],[-39.6,-58.2],[-37.8,-59.5],[-36,-58.4],[-34.2,-59.7],[-32.4,-58.4],[-30.6,-59.4],[-40.2,-60.6],[-35.6,-60.8],[-31.6,-60.6],
[-42.4,-62.4],[-40.6,-61.2],[-38.8,-62.5],[-37,-61.4],[-35.2,-62.7],[-33.4,-61.4],[-31.6,-62.4],[-39.6,-63.6],[-36,-63.8],[-32.8,-63.6],
[-41.2,-64.8],[-39.4,-65.8],[-37.6,-64.8],[-35.8,-65.8],[-34,-64.8],[-32.2,-65.4],[-36.6,-66.8],[-34.4,-67],
[-48.6,-34.6],[-46.4,-34.4],[-43.2,-35.4],[-41.4,-36.6],[-53.8,-37.4],[-57.2,-37.6],
[-59,-39.8],[-57.2,-39.4],[-53.4,-39.6],[-51.6,-39.8],[-49.8,-39.6],[-46,-39.4],[-44.2,-39.8],[-39,-39],[-37.4,-39.6],[-35.6,-40],[-34,-39.4],[-32.6,-39.2],
[-58.6,-42.4],[-55.2,-42.8],[-53.4,-42.2],[-49.8,-42.6],[-48,-42.2],[-44.4,-42.4],[-42.4,-42.6],[-38.8,-42.2],[-37,-42.6],[-33.4,-42.8],
[-60.2,-45.4],[-56.8,-45.4],[-55,-45.2],[-51.4,-45.4],[-49.6,-45.2],[-45.8,-45.6],[-44,-45.2],[-40.2,-45.2],[-38.6,-45.6],[-35,-45.4],[-33.2,-45.4],
[-59.8,-48.4],[-58,-48],[-54.6,-48.2],[-52.6,-48.2],[-49,-48],[-47.2,-48.4],[-43.6,-48],[-42,-48.4],[-38.2,-48.2],[-36.2,-48.2],[-32.6,-48.2],[-30.8,-48.6],
[-54.2,-51.4],[-51.6,-51],[-47.8,-51.2],[-46,-50.8],[-42.6,-51.2],[-40.6,-51.4],[-37,-51],[-35.2,-51.2],[-31.4,-51.2],[-29.8,-51.6],
[-51,-54.2],[-49.4,-54.6],[-45.8,-54.2],[-43.8,-54.8],[-39.4,-54],[-35.6,-54.2],[-33.8,-54],[-30,-54.6],
[-49.6,-57.2],[-47.8,-57.6],[-45.8,-57.2],[-41.6,-57.6],[-39.2,-57.4],[-35.4,-57.2],[-32,-57.4],
[-42.2,-60.4],[-38.4,-60.2],[-36.8,-60.4],[-33.6,-60.6],[-30.2,-60.8],
[-41.4,-63.2],[-37.8,-63.4],[-34.4,-63.2],[-31.4,-63.6],
[-40.2,-66.4],[-38.4,-66.6],[-33.2,-66.2],[-38.2,-67.2],
[-62.3,-11.9]];

const groupData = [g363, g370, g374, g375, g394, g413, g426, g436, g463, g467];

const chart = echarts.init(document.getElementById('c'), null, {renderer: 'canvas'});
const FONT = 'DejaVu Sans';
const TXT = '#262626';
chart.setOption({
  animation: false,
  backgroundColor: '#ffffff',
  title: {text: 'tsne', left: 499, top: 3, textAlign: 'center',
    textStyle: {fontFamily: FONT, fontSize: 24, fontWeight: 'normal', color: TXT}},
  grid: {left: 53, right: 12, top: 32, bottom: 36, show: true, borderColor: TXT, borderWidth: 1.2, backgroundColor: 'transparent'},
  xAxis: {type: 'value', min: -87.4, max: 87.4,
    axisLine: {show: false}, axisTick: {show: false}, splitLine: {show: false},
    axisLabel: {customValues: tickValues, margin: 6, fontFamily: FONT, fontSize: 22, color: TXT}},
  yAxis: {type: 'value', min: -82.4, max: 89.5,
    axisLine: {show: false}, axisTick: {show: false}, splitLine: {show: false},
    axisLabel: {customValues: tickValues, margin: 11, fontFamily: FONT, fontSize: 22, color: TXT, padding: [6, 0, 0, 0]}},
  legend: {
    data: groupIds, orient: 'vertical', left: 839, top: 86, z: 30, padding: 0,
    itemWidth: 10, itemHeight: 10, itemGap: 7, icon: 'circle',
    itemStyle: {opacity: 1, borderWidth: 0},
    textStyle: {fontFamily: FONT, fontSize: 22, color: TXT, lineHeight: 24, padding: [0, 0, 0, 30]},
    selectedMode: false
  },
  graphic: [
    {type: 'rect', z: 25, shape: {x: 813, y: 43, width: 122, height: 352, r: 4},
      style: {fill: 'rgba(255,255,255,0.85)', stroke: '#d5d5d5', lineWidth: 1}},
    {type: 'text', z: 30, x: 874, y: 64, style: {text: 'group_id', fontFamily: FONT, fontSize: 24, fill: TXT, align: 'center', verticalAlign: 'middle'}}
  ],
  series: groupIds.map((g, i) => ({
    type: 'scatter', name: g, data: groupData[i], symbolSize: 8.5, z: 2,
    itemStyle: {color: groupColors[i], opacity: 0.4, borderColor: '#ffffff', borderWidth: 0.6},
    emphasis: {disabled: true}
  }))
});
</script>
</body></html>
